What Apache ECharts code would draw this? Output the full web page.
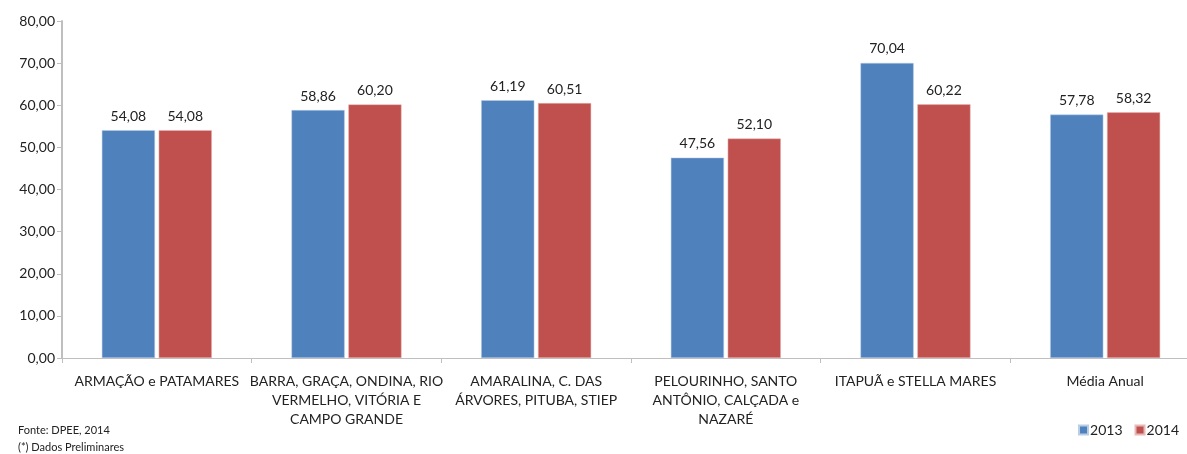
<!DOCTYPE html>
<html><head><meta charset="utf-8">
<script src="https://cdn.jsdelivr.net/npm/echarts@6/dist/echarts.min.js"></script>
<style>html,body{margin:0;padding:0;background:#fff;overflow:hidden}#c{width:1200px;height:454px}</style>
</head><body><div id="c"></div>
<script>
const categories = [
  'ARMAÇÃO e PATAMARES',
  'BARRA, GRAÇA, ONDINA, RIO\nVERMELHO, VITÓRIA E\nCAMPO GRANDE',
  'AMARALINA, C. DAS\nÁRVORES, PITUBA, STIEP',
  'PELOURINHO, SANTO\nANTÔNIO, CALÇADA e\nNAZARÉ',
  'ITAPUÃ e STELLA MARES',
  'Média Anual'
];
const values2013 = [54.08, 58.86, 61.19, 47.56, 70.04, 57.78];
const values2014 = [54.08, 60.20, 60.51, 52.10, 60.22, 58.32];
const seriesNames = ['2013', '2014'];
const footnotes = ['Fonte: DPEE, 2014', '(*) Dados Preliminares'];

const FONT = 'Lato';
const fmt = v => Number(v).toFixed(2).replace('.', ',');
const chart = echarts.init(document.getElementById('c'));
const labelOpt = {show: true, position: 'top', distance: 7, color: '#222', fontFamily: FONT, fontSize: 14, formatter: p => fmt(p.value)};
chart.setOption({
  animation: false,
  grid: {left: 62, top: 21, right: 0, height: 337, containLabel: false},
  legend: {
    data: seriesNames, right: 16, bottom: 12, itemWidth: 9, itemHeight: 9, itemGap: 12,
    icon: 'rect', textStyle: {fontFamily: FONT, fontSize: 14, color: '#222', padding: [0, 0, 0, -3]}
  },
  graphic: [
    {type: 'text', left: 18, top: 425, style: {text: footnotes[0], font: '11px ' + FONT, fill: '#222'}},
    {type: 'text', left: 18, top: 442, style: {text: footnotes[1], font: '11px ' + FONT, fill: '#222'}}
  ],
  xAxis: {
    type: 'category', data: categories,
    axisLine: {lineStyle: {color: '#BFBFBF', width: 1}},
    axisTick: {show: true, length: 5, lineStyle: {color: '#BFBFBF'}},
    axisLabel: {interval: 0, margin: 14, color: '#222', fontFamily: FONT, fontSize: 14, lineHeight: 19, align: 'center'}
  },
  yAxis: {
    type: 'value', min: 0, max: 80, interval: 10,
    axisLine: {show: true, lineStyle: {color: '#BFBFBF', width: 2}},
    axisTick: {show: true, length: 5, lineStyle: {color: '#BFBFBF'}},
    splitLine: {show: false},
    axisLabel: {margin: 7, color: '#222', fontFamily: FONT, fontSize: 14, formatter: fmt}
  },
  series: [
    {name: seriesNames[0], type: 'bar', data: values2013, barGap: '7%', barCategoryGap: '42%',
     itemStyle: {color: '#4F81BD', borderColor: '#B9CDE5', borderWidth: 0.5}, label: labelOpt},
    {name: seriesNames[1], type: 'bar', data: values2014,
     itemStyle: {color: '#C0504D', borderColor: '#E6B9B8', borderWidth: 0.5}, label: labelOpt}
  ]
});
</script></body></html>
